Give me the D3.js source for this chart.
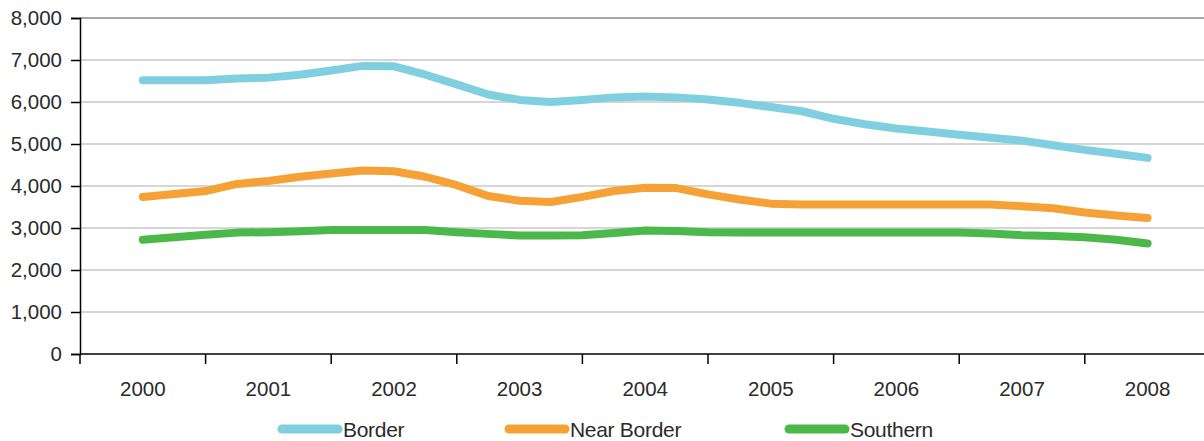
<!DOCTYPE html>
<html>
<head>
<meta charset="utf-8">
<script src="https://cdn.jsdelivr.net/npm/d3@7"></script>
<style>
  body { margin: 0; background: #fff; }
  text { font-family: "Liberation Sans", Arial, sans-serif; }
</style>
</head>
<body>
<div id="chart"></div>
<script>
// data, quarterly readings 2000 Q1 .. 2008 Q1
const years = ["2000", "2001", "2002", "2003", "2004", "2005", "2006", "2007", "2008"];
const quarters = d3.range(33).map(q => 2000 + q / 4);
const border = [6520, 6520, 6520, 6560, 6580, 6650, 6750, 6860, 6850, 6650, 6420, 6180, 6050, 6000, 6050, 6110,
    6130, 6110, 6060, 5980, 5880, 5780, 5600, 5470, 5370, 5300, 5220, 5150, 5080, 4970, 4860, 4770, 4670];
const nearBorder = [3740, 3810, 3880, 4050, 4120, 4220, 4300, 4370, 4350, 4220, 4020, 3760, 3650, 3620, 3740, 3880,
    3960, 3950, 3800, 3680, 3580, 3560, 3560, 3560, 3560, 3560, 3560, 3560, 3520, 3470, 3370, 3300, 3240];
const southern = [2720, 2780, 2840, 2890, 2900, 2920, 2950, 2950, 2950, 2950, 2900, 2860, 2820, 2820, 2830, 2880,
    2940, 2930, 2900, 2890, 2890, 2890, 2890, 2890, 2890, 2890, 2890, 2870, 2830, 2810, 2780, 2720, 2630];
const yTicks = [0, 1000, 2000, 3000, 4000, 5000, 6000, 7000, 8000];

const series = [
    {name: "Border", values: border, color: "#80cfe0"},
    {name: "Near Border", values: nearBorder, color: "#f5a136"},
    {name: "Southern", values: southern, color: "#4bb84a"}
];

// page setup
const width = 1204;
const height = 441;
const plotLeft = 80;
const plotTop = 18;
const plotBottom = 354;

const svg = d3.select("#chart")
    .append("svg")
    .attr("width", width)
    .attr("height", height);

// scales
const xBand = d3.scaleBand()
    .domain(years)
    .range([plotLeft, plotLeft + 125.6 * 9]);

const xTime = d3.scaleLinear()
    .domain([2000, 2008])
    .range([xBand("2000") + xBand.bandwidth() / 2, xBand("2008") + xBand.bandwidth() / 2]);

const y = d3.scaleLinear()
    .domain([0, 8000])
    .range([plotBottom, plotTop]);

// gridlines
svg.append("g")
    .selectAll("line")
    .data(yTicks.filter(d => d > 0))
    .enter()
    .append("line")
    .attr("x1", plotLeft)
    .attr("x2", width)
    .attr("y1", d => y(d))
    .attr("y2", d => y(d))
    .attr("stroke", d => d === 8000 ? "#8a8a8a" : "#c8c8c8")
    .attr("stroke-width", 1.5);

// y axis
const yAxis = svg.append("g")
    .attr("transform", `translate(${plotLeft},0)`)
    .call(d3.axisLeft(y).tickValues(yTicks).tickFormat(d3.format(",")).tickSize(9).tickPadding(9));
yAxis.select(".domain").attr("stroke", "#000").attr("stroke-width", 1.5);
yAxis.selectAll(".tick line").attr("stroke", "#000").attr("stroke-width", 1.5);
yAxis.selectAll("text").attr("font-size", "20.5px").attr("fill", "#2b2b2b")
    .style("font-family", "'Liberation Sans', Arial, sans-serif");

// x axis: line, ticks between categories, centred labels
svg.append("line")
    .attr("x1", plotLeft)
    .attr("x2", width)
    .attr("y1", plotBottom)
    .attr("y2", plotBottom)
    .attr("stroke", "#000")
    .attr("stroke-width", 1.5);

svg.append("g")
    .selectAll("line")
    .data(years)
    .enter()
    .append("line")
    .attr("x1", d => xBand(d))
    .attr("x2", d => xBand(d))
    .attr("y1", plotBottom)
    .attr("y2", plotBottom + 10)
    .attr("stroke", "#000")
    .attr("stroke-width", 1.5);

svg.append("g")
    .selectAll("text")
    .data(years)
    .enter()
    .append("text")
    .attr("x", d => xBand(d) + xBand.bandwidth() / 2)
    .attr("y", 396)
    .attr("text-anchor", "middle")
    .attr("font-size", "20.5px")
    .attr("fill", "#2b2b2b")
    .text(d => d);

// lines
const line = d3.line()
    .x((d, i) => xTime(quarters[i]))
    .y(d => y(d));

svg.append("g")
    .selectAll("path")
    .data(series)
    .enter()
    .append("path")
    .attr("d", d => line(d.values))
    .attr("fill", "none")
    .attr("stroke", d => d.color)
    .attr("stroke-width", 8)
    .attr("stroke-linejoin", "round")
    .attr("stroke-linecap", "round");

// legend
const legendX = [282, 509, 789];
const legend = svg.append("g")
    .selectAll("g")
    .data(series)
    .enter()
    .append("g")
    .attr("transform", (d, i) => `translate(${legendX[i]},429)`);

legend.append("line")
    .attr("x1", 0)
    .attr("x2", 56)
    .attr("stroke", d => d.color)
    .attr("stroke-width", 9)
    .attr("stroke-linecap", "round");

legend.append("text")
    .attr("x", 61)
    .attr("y", 8)
    .attr("font-size", "21px")
    .attr("letter-spacing", "-0.3px")
    .attr("fill", "#2b2b2b")
    .text(d => d.name);
</script>
</body>
</html>
